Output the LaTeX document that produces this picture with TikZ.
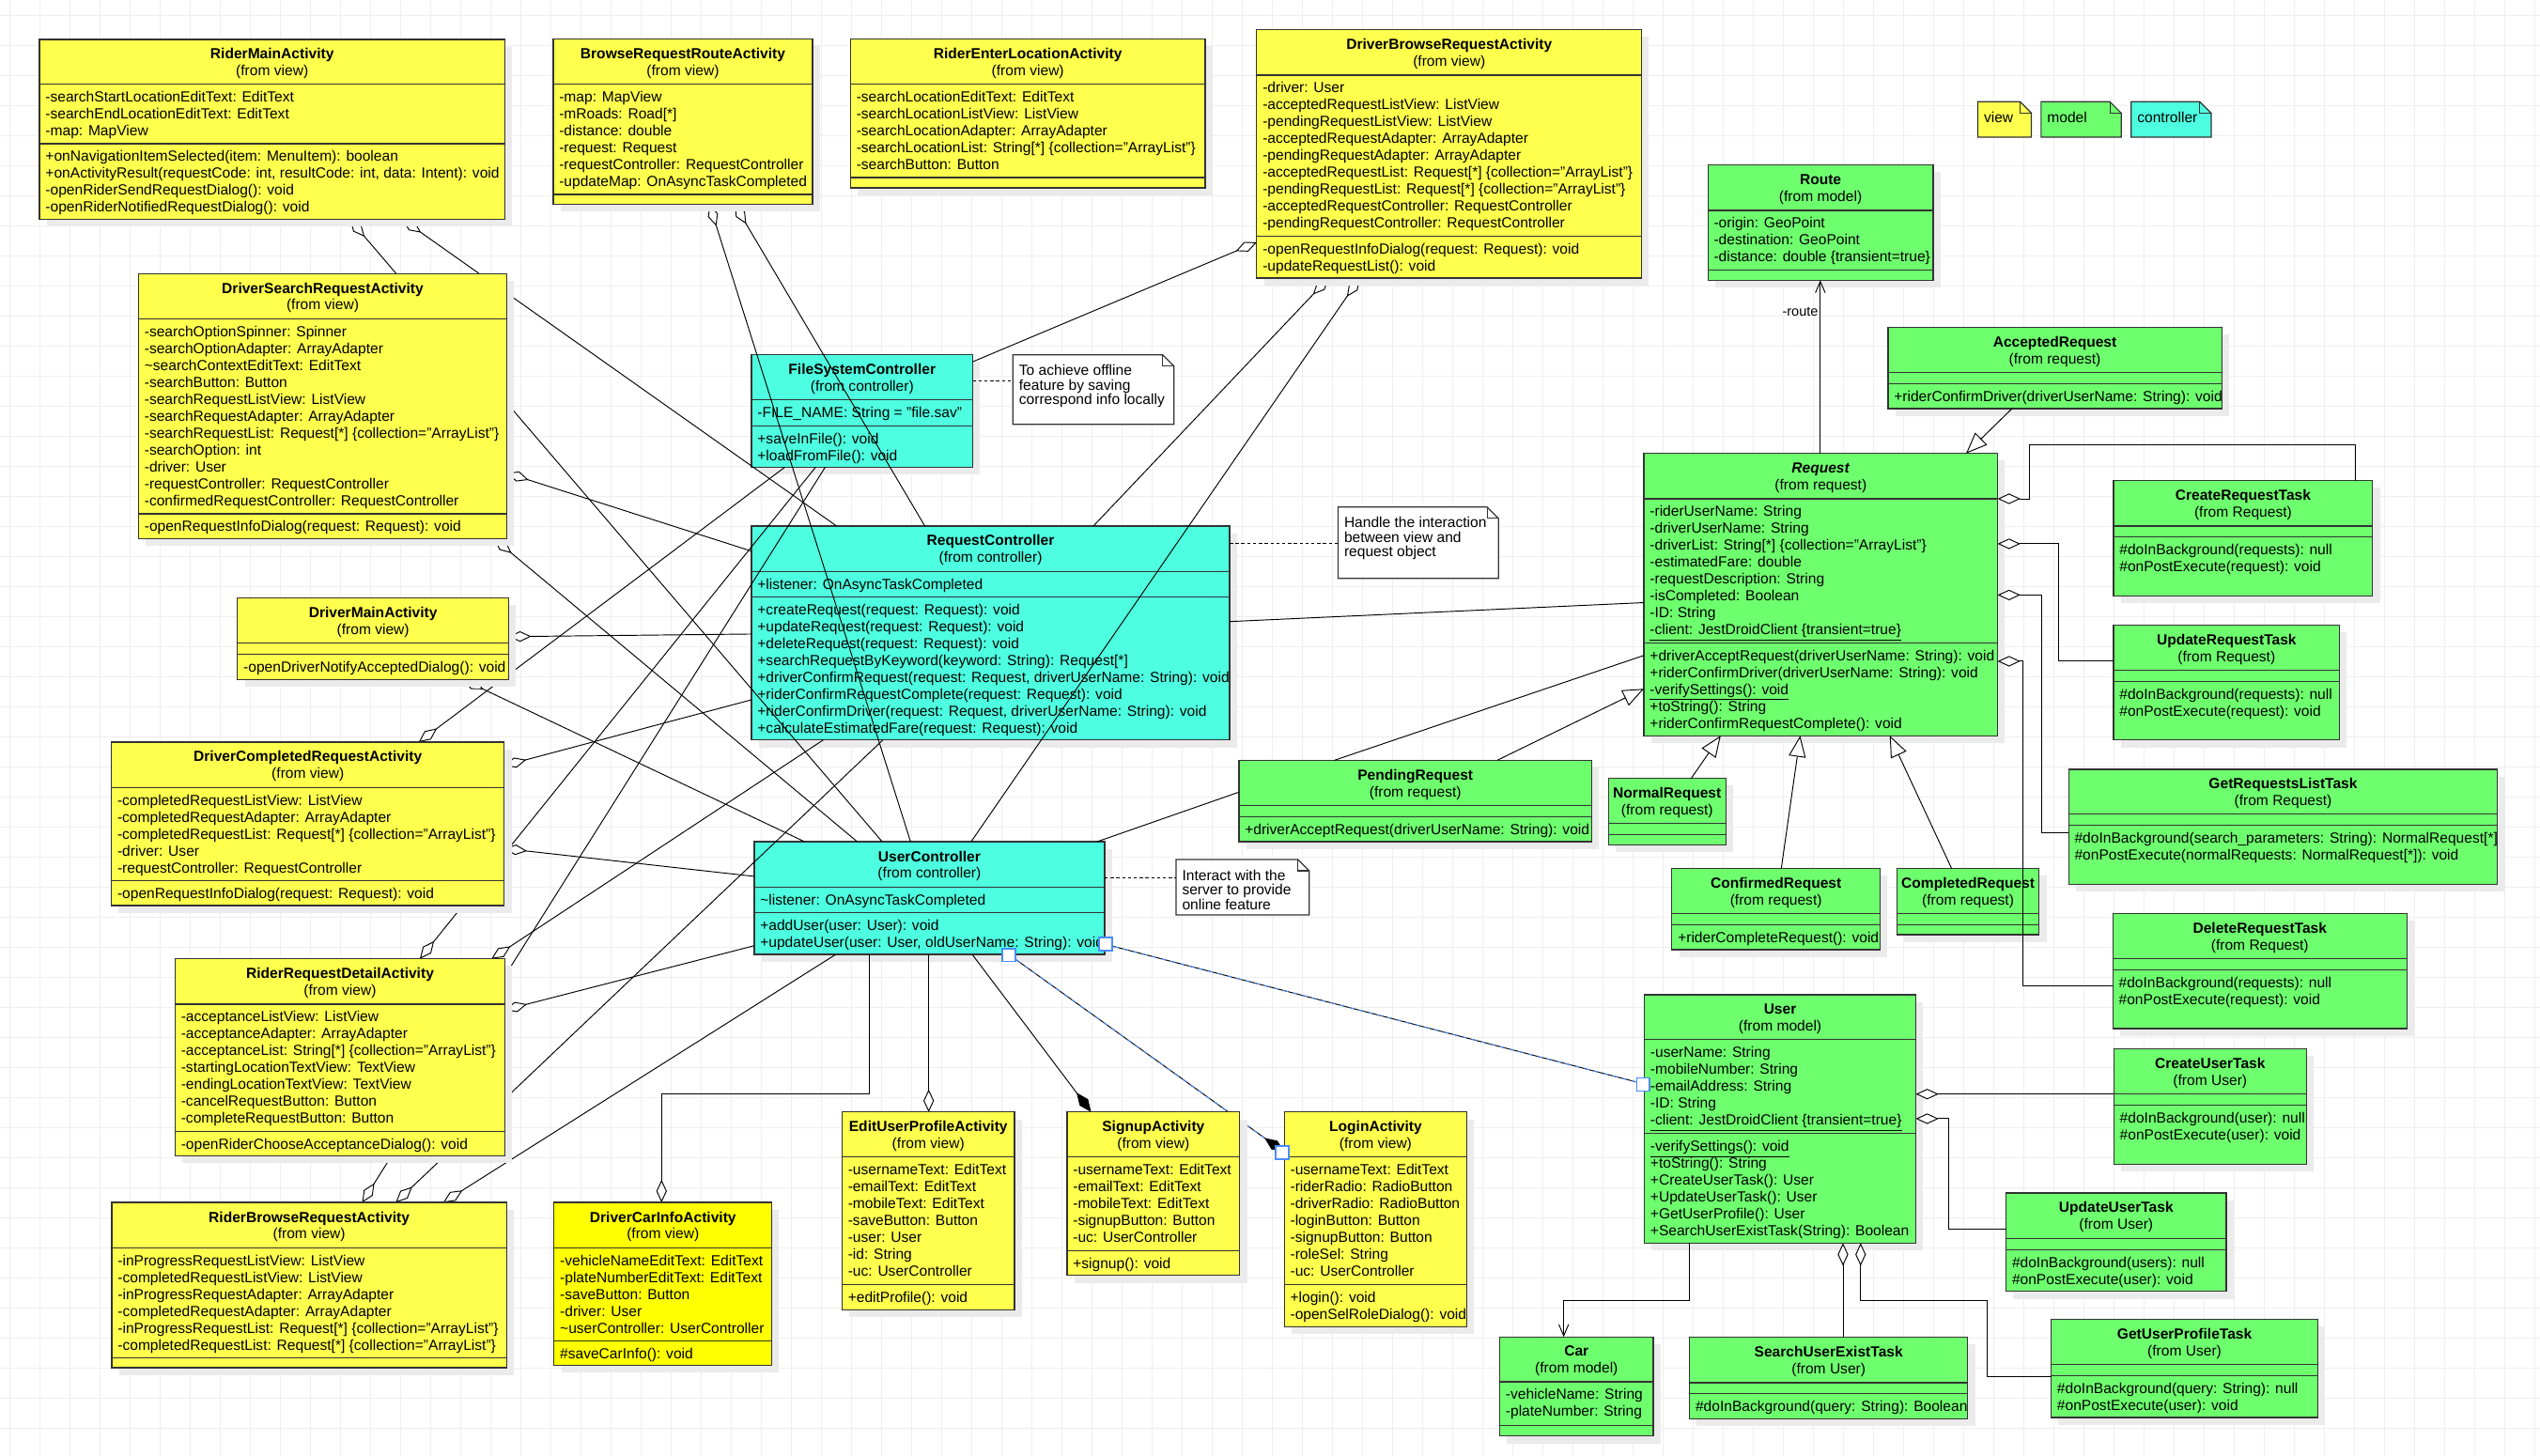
\documentclass[tikz,border=0pt]{standalone}
\usepackage{fontspec}
\setmainfont{Liberation Sans}
\usetikzlibrary{arrows.meta}
\pgfdeclarelayer{front}
\pgfdeclarelayer{top}
\pgfsetlayers{main,front,top}
\definecolor{vyel}{HTML}{FFFF4D}
\definecolor{vyelb}{HTML}{FFFF00}
\definecolor{mgrn}{HTML}{6EFF6E}
\definecolor{ccyn}{HTML}{4DFFE0}
\definecolor{selb}{HTML}{4A8CFF}
\definecolor{gridc}{HTML}{EFEFEF}
\definecolor{shad}{HTML}{EBEBEB}
\definecolor{bord}{HTML}{333333}
\newcommand\ufont{\fontsize{9.03}{10.44}\selectfont}
\def\UGeom#1,#2,#3,#4,#5,#6\relax{\def\ux{#1}\def\uy{#2}\def\uxx{#3}\def\uyy{#4}\def\uhy{#5}\def\uay{#6}}
\def\UNGeom#1,#2,#3,#4\relax{\def\ux{#1}\def\uy{#2}\def\uxx{#3}\def\uyy{#4}}
\tikzset{
 umlbox/.style={draw=bord, line width=0.7pt, inner sep=0pt, outer sep=0pt, anchor=north west},
 tline/.style={anchor=base west, inner sep=0pt, font=\ufont},
 tbold/.style={anchor=base, inner sep=0pt, font=\ufont\bfseries},
 tsub/.style={anchor=base, inner sep=0pt, font=\ufont},
 conn/.style={draw=black, line width=0.55pt},
 agg/.style={conn, {Diamond[fill=white,length=14pt,width=6.5pt]}-},
 compo/.style={conn, -{Diamond[fill=black,length=15pt,width=6.5pt]}},
 gen/.style={conn, -{Triangle[fill=white,length=13pt,width=10.5pt]}},
 navi/.style={conn, -{Straight Barb[length=7pt,width=6pt]}},
 dotl/.style={draw=black, line width=0.55pt, dash pattern=on 2pt off 1.6pt},
 selov/.style={draw=selb, line width=0.55pt, dash pattern=on 3pt off 3pt},
 handle/.style={draw=selb, fill=white, line width=0.9pt, minimum size=8pt, inner sep=0pt},
}
\newcommand\UClass[7]{%
  \UGeom#2\relax
  \fill[shad] (\ux+4.5,\uy+4.5) rectangle (\uxx+4.5,\uyy+4.5);
  \node[umlbox, fill=#3, minimum width={(\uxx-\ux)*1pt}, minimum height={(\uyy-\uy)*1pt}] (#1) at (\ux,\uy) {};
  \draw[bord, line width=0.7pt] (\ux,\uhy) -- (\uxx,\uhy) (\ux,\uay) -- (\uxx,\uay);
  \node[tbold] (#1-t) at ({(\ux+\uxx)/2},{(\uy+\uhy)/2-5.15+3.3}) {#4};
  \node[tsub] (#1-s) at ({(\ux+\uxx)/2},{(\uy+\uhy)/2+5.15+3.3}) {#5};
  \if\relax\detokenize{#6}\relax\else
  \foreach \ulin [count=\ui] in {#6} {\node[tline] (#1-a\ui) at (\ux+3.5,{\uhy+10.9+(\ui-1)*10.44}) {\ulin};}\fi
  \if\relax\detokenize{#7}\relax\else
  \foreach \ulin [count=\ui] in {#7} {\node[tline] (#1-m\ui) at (\ux+3.5,{\uay+10.9+(\ui-1)*10.44}) {\ulin};}\fi
}
\newcommand\UNote[4]{%
  \UNGeom#2\relax
  \node[inner sep=0pt, outer sep=0pt, anchor=north west, minimum width={(\uxx-\ux)*1pt}, minimum height={(\uyy-\uy)*1pt}] (#1) at (\ux,\uy) {};
  \filldraw[fill=#3, draw=bord, line width=0.7pt] (\ux,\uy) -- (\uxx-7,\uy) -- (\uxx,\uy+7) -- (\uxx,\uyy) -- (\ux,\uyy) -- cycle;
  \draw[bord, line width=0.7pt] (\uxx-7,\uy) -- (\uxx-7,\uy+7) -- (\uxx,\uy+7);
  \foreach \ulin [count=\ui] in {#4} {\node[tline] (#1-l\ui) at (\ux+3.6,{\uy+9.5+3.3+(\ui-1)*9}) {\ulin};}
}
\begin{document}
\begin{tikzpicture}[x=1pt,y=-1pt]
\useasboundingbox (0,0) rectangle (1568,898.8);
\fill[white] (0,0) rectangle (1568,898.8);
\foreach \g in {0,...,84} {\draw[gridc, line width=0.4pt] ({6.1+\g*18.556},0) -- ({6.1+\g*18.556},898.8);}
\foreach \g in {0,...,48} {\draw[gridc, line width=0.4pt] (0,{9.6+\g*18.556}) -- (1568,{9.6+\g*18.556});}

% ---------- controllers ----------
\UClass{fsc}{463.9,219,600.5,288.4,246.8,262.9}{ccyn}{FileSystemController}{(from controller)}{{-FILE\_NAME: String = "file.sav"}}{{+saveInFile(): void},{+loadFromFile(): void}}
\UClass{rc}{463.9,324.7,759.1,456.8,352.8,368.6}{ccyn}{RequestController}{(from controller)}{{+listener: OnAsyncTaskCompleted}}{{+createRequest(request: Request): void},{+updateRequest(request: Request): void},{+deleteRequest(request: Request): void},{+searchRequestByKeyword(keyword: String): Request[*]},{+driverConfirmRequest(request: Request, driverUserName: String): void},{+riderConfirmRequestComplete(request: Request): void},{+riderConfirmDriver(request: Request, driverUserName: String): void},{+calculateEstimatedFare(request: Request): void}}
\UClass{uc}{465.6,519.6,681.9,589.2,547.6,563.5}{ccyn}{UserController}{(from controller)}{{\textasciitilde listener: OnAsyncTaskCompleted}}{{+addUser(user: User): void},{+updateUser(user: User, oldUserName: String): void}}

% ---------- models ----------
\UClass{route}{1054.3,101.9,1193.4,173,129.9,166.6}{mgrn}{Route}{(from model)}{{-origin: GeoPoint},{-destination: GeoPoint},{-distance: double \{transient=true\}}}{}
\UClass{acc}{1165.5,202,1371.5,252.3,230,236.8}{mgrn}{AcceptedRequest}{(from request)}{}{{+riderConfirmDriver(driverUserName: String): void}}
\UClass{req}{1014.8,279.9,1233.2,454.2,307.9,396.8}{mgrn}{\textit{Request}}{(from request)}{{-riderUserName: String},{-driverUserName: String},{-driverList: String[*] \{collection="ArrayList"\}},{-estimatedFare: double},{-requestDescription: String},{-isCompleted: Boolean},{-ID: String},{\underline{-client: JestDroidClient \{transient=true\}}}}{{+driverAcceptRequest(driverUserName: String): void},{+riderConfirmDriver(driverUserName: String): void},{\underline{-verifySettings(): void}},{+toString(): String},{+riderConfirmRequestComplete(): void}}
\UClass{crt}{1304.7,296.7,1464.7,367.8,324.7,331.5}{mgrn}{CreateRequestTask}{(from Request)}{}{{\#doInBackground(requests): null},{\#onPostExecute(request): void}}
\UClass{urt}{1304.7,386,1444.3,456.8,413.6,420.8}{mgrn}{UpdateRequestTask}{(from Request)}{}{{\#doInBackground(requests): null},{\#onPostExecute(request): void}}
\UClass{grt}{1277,474.9,1541.8,546,502.6,509.5}{mgrn}{GetRequestsListTask}{(from Request)}{}{{\#doInBackground(search\_parameters: String): NormalRequest[*]},{\#onPostExecute(normalRequests: NormalRequest[*]): void}}
\UClass{drt}{1304.3,564,1485.8,635,591.9,598.6}{mgrn}{DeleteRequestTask}{(from Request)}{}{{\#doInBackground(requests): null},{\#onPostExecute(request): void}}
\UClass{pend}{764.8,469.3,982.6,519.6,497.3,504.1}{mgrn}{PendingRequest}{(from request)}{}{{+driverAcceptRequest(driverUserName: String): void}}
\UClass{norm}{992.9,480.5,1065.4,521.5,508.4,515.1}{mgrn}{NormalRequest}{(from request)}{}{}
\UClass{conf}{1032.1,536.2,1160.6,586.3,564,570.8}{mgrn}{ConfirmedRequest}{(from request)}{}{{+riderCompleteRequest(): void}}
\UClass{cplt}{1171,536.2,1258.8,577,564,570.8}{mgrn}{CompletedRequest}{(from request)}{}{}
\UClass{user}{1015.1,614.1,1182.7,767.4,641.7,699.7}{mgrn}{User}{(from model)}{{-userName: String},{-mobileNumber: String},{-emailAddress: String},{-ID: String},{\underline{-client: JestDroidClient \{transient=true\}}}}{{\underline{-verifySettings(): void}},{+toString(): String},{+CreateUserTask(): User},{+UpdateUserTask(): User},{+GetUserProfile(): User},{+SearchUserExistTask(String): Boolean}}
\UClass{cut}{1304.9,647.5,1423.8,718.7,675.4,682.3}{mgrn}{CreateUserTask}{(from User)}{}{{\#doInBackground(user): null},{\#onPostExecute(user): void}}
\UClass{uut}{1238.4,736.4,1374.3,797.2,764.5,771.4}{mgrn}{UpdateUserTask}{(from User)}{}{{\#doInBackground(users): null},{\#onPostExecute(user): void}}
\UClass{car}{925.8,825.3,1020.6,886.5,853,880}{mgrn}{Car}{(from model)}{{-vehicleName: String},{-plateNumber: String}}{}
\UClass{suet}{1043,825.3,1214.7,875.8,853.6,860.4}{mgrn}{SearchUserExistTask}{(from User)}{}{{\#doInBackground(query: String): Boolean}}
\UClass{gupt}{1266.2,814.5,1430.9,875,842.4,849.1}{mgrn}{GetUserProfileTask}{(from User)}{}{{\#doInBackground(query: String): null},{\#onPostExecute(user): void}}

% ---------- notes ----------
\UNote{n1}{625.3,219,724.7,261.9}{white}{{To achieve offline},{feature by saving},{correspond info locally}}
\UNote{n2}{826,313,925,357}{white}{{Handle the interaction},{between view and},{request object}}
\UNote{n3}{726,530.6,808.2,564.8}{white}{{Interact with the},{server to provide},{online feature}}
\UNote{lv}{1220.9,62.8,1254,84.7}{vyel}{{view}}
\UNote{lm}{1260,62.8,1309.5,84.7}{mgrn}{{model}}
\UNote{lc}{1315.6,62.8,1365,84.7}{ccyn}{{controller}}

% ---------- activities (front layer) ----------
\begin{pgfonlayer}{front}
\UClass{rma}{24.4,24.3,311.6,135.5,52,88.7}{vyel}{RiderMainActivity}{(from view)}{{-searchStartLocationEditText: EditText},{-searchEndLocationEditText: EditText},{-map: MapView}}{{+onNavigationItemSelected(item: MenuItem): boolean},{+onActivityResult(requestCode: int, resultCode: int, data: Intent): void},{-openRiderSendRequestDialog(): void},{-openRiderNotifiedRequestDialog(): void}}
\UClass{brr}{341.5,24.2,501.6,126.2,51.8,120}{vyel}{BrowseRequestRouteActivity}{(from view)}{{-map: MapView},{-mRoads: Road[*]},{-distance: double},{-request: Request},{-requestController: RequestController},{-updateMap: OnAsyncTaskCompleted}}{}
\UClass{rel}{525,24.2,744,116,51.8,109.6}{vyel}{RiderEnterLocationActivity}{(from view)}{{-searchLocationEditText: EditText},{-searchLocationListView: ListView},{-searchLocationAdapter: ArrayAdapter},{-searchLocationList: String[*] \{collection="ArrayList"\}},{-searchButton: Button}}{}
\UClass{dbr}{775.8,18.4,1013.4,171.6,46.4,146}{vyel}{DriverBrowseRequestActivity}{(from view)}{{-driver: User},{-acceptedRequestListView: ListView},{-pendingRequestListView: ListView},{-acceptedRequestAdapter: ArrayAdapter},{-pendingRequestAdapter: ArrayAdapter},{-acceptedRequestList: Request[*] \{collection="ArrayList"\}},{-pendingRequestList: Request[*] \{collection="ArrayList"\}},{-acceptedRequestController: RequestController},{-pendingRequestController: RequestController}}{{-openRequestInfoDialog(request: Request): void},{-updateRequestList(): void}}
\UClass{dsr}{85.5,169,312.9,332.5,196.7,317.2}{vyel}{DriverSearchRequestActivity}{(from view)}{{-searchOptionSpinner: Spinner},{-searchOptionAdapter: ArrayAdapter},{\textasciitilde searchContextEditText: EditText},{-searchButton: Button},{-searchRequestListView: ListView},{-searchRequestAdapter: ArrayAdapter},{-searchRequestList: Request[*] \{collection="ArrayList"\}},{-searchOption: int},{-driver: User},{-requestController: RequestController},{-confirmedRequestController: RequestController}}{{-openRequestInfoDialog(request: Request): void}}
\UClass{dma}{146.6,369.2,314,419.5,396.8,404}{vyel}{DriverMainActivity}{(from view)}{}{{-openDriverNotifyAcceptedDialog(): void}}
\UClass{dcr}{68.8,458.1,311.3,559,486.1,543.7}{vyel}{DriverCompletedRequestActivity}{(from view)}{{-completedRequestListView: ListView},{-completedRequestAdapter: ArrayAdapter},{-completedRequestList: Request[*] \{collection="ArrayList"\}},{-driver: User},{-requestController: RequestController}}{{-openRequestInfoDialog(request: Request): void}}
\UClass{rrd}{108.1,591.9,311.7,713.6,619.9,698.4}{vyel}{RiderRequestDetailActivity}{(from view)}{{-acceptanceListView: ListView},{-acceptanceAdapter: ArrayAdapter},{-acceptanceList: String[*] \{collection="ArrayList"\}},{-startingLocationTextView: TextView},{-endingLocationTextView: TextView},{-cancelRequestButton: Button},{-completeRequestButton: Button}}{{-openRiderChooseAcceptanceDialog(): void}}
\UClass{rbr}{69,742.3,312.7,844.3,770.3,838.3}{vyel}{RiderBrowseRequestActivity}{(from view)}{{-inProgressRequestListView: ListView},{-completedRequestListView: ListView},{-inProgressRequestAdapter: ArrayAdapter},{-completedRequestAdapter: ArrayAdapter},{-inProgressRequestList: Request[*] \{collection="ArrayList"\}},{-completedRequestList: Request[*] \{collection="ArrayList"\}}}{}
\UClass{dci}{342,742.3,476.5,842.8,770.3,827.9}{vyelb}{DriverCarInfoActivity}{(from view)}{{-vehicleNameEditText: EditText},{-plateNumberEditText: EditText},{-saveButton: Button},{-driver: User},{\textasciitilde userController: UserController}}{{\#saveCarInfo(): void}}
\UClass{eup}{519.8,686.5,626.3,808.5,714.3,793}{vyel}{EditUserProfileActivity}{(from view)}{{-usernameText: EditText},{-emailText: EditText},{-mobileText: EditText},{-saveButton: Button},{-user: User},{-id: String},{-uc: UserController}}{{+editProfile(): void}}
\UClass{sua}{658.7,686.5,765.3,787.4,714.3,772.3}{vyel}{SignupActivity}{(from view)}{{-usernameText: EditText},{-emailText: EditText},{-mobileText: EditText},{-signupButton: Button},{-uc: UserController}}{{+signup(): void}}
\UClass{lga}{792.8,686.5,905.6,818.9,714.3,793}{vyel}{LoginActivity}{(from view)}{{-usernameText: EditText},{-riderRadio: RadioButton},{-driverRadio: RadioButton},{-loginButton: Button},{-signupButton: Button},{-roleSel: String},{-uc: UserController}}{{+login(): void},{-openSelRoleDialog(): void}}
\end{pgfonlayer}

% ---------- connectors: views to controllers ----------
\draw[agg] (rma.south -| 216,0) -- (uc.north -| 544.6,0);
\draw[agg] (rma.south -| 248.5,0) -- (rc.north -| 516.4,0);
\draw[agg] (brr.south -| 438,0) -- (uc.north -| 562.1,0);
\draw[agg] (brr.south -| 453.5,0) -- (rc.north -| 570.9,0);
\draw[agg] (dbr.west |- 0,149.6) -- (fsc.east |- 0,223.3);
\draw[agg] (dbr.south -| 820.2,0) -- (rc.north -| 675,0);
\draw[agg] (dbr.south -| 839.4,0) -- (uc.north -| 599.5,0);
\draw[agg] (dsr.east |- 0,292) -- (rc.west |- 0,340.2);
\draw[agg] (dsr.south -| 305,0) -- (uc.north -| 529.2,0);
\draw[agg] (dma.east |- 0,393) -- (rc.west |- 0,391.4);
\draw[agg] (dma.south -| 285.8,0) -- (uc.north -| 496.7,0);
\draw[agg] (dcr.north -| 258.5,0) -- (fsc.south -| 484.5,0);
\draw[agg] (dcr.east |- 0,472.6) -- (rc.west |- 0,432);
\draw[agg] (dcr.east |- 0,523.8) -- (uc.west |- 0,541);
\draw[agg] (rrd.north -| 259.2,0) -- (fsc.south -| 503.5,0);
\draw[agg] (rrd.north -| 303.4,0) -- (rc.south -| 508.2,0);
\draw[agg] (rrd.east |- 0,623.4) -- (uc.west |- 0,583.8);
\draw[agg] (rbr.north -| 223.6,0) -- (fsc.south -| 509.4,0);
\draw[agg] (rbr.north -| 244.3,0) -- (rc.south -| 545,0);
\draw[agg] (rbr.north -| 273.6,0) -- (uc.south -| 515.9,0);
\draw[agg] (dci.north -| 408.4,0) -- ++(0,-67) -| (uc.south -| 536.6,0);
\draw[agg] (eup.north -| 573.3,0) -- (uc.south -| 573.3,0);
\draw[compo] (uc.south -| 600.2,0) -- (sua.north -| 673.6,0);
\draw[compo] (uc.south -| 622.7,0) -- (lga.west |- 0,711.2);
\draw[selov, shorten >=15pt] (uc.south -| 622.7,0) -- (lga.west |- 0,711.2);
% ---------- controllers to models ----------
\draw[conn] (uc.north -| 677.2,0) -- (pend.west |- 0,489);
\draw[conn] (rc.east |- 0,383.7) -- (req.west |- 0,372);
\draw[conn] (uc.east |- 0,582.8) -- (user.west |- 0,669.2);
\draw[selov] (uc.east |- 0,582.8) -- (user.west |- 0,669.2);
% ---------- model relations ----------
\draw[conn] (pend.north -| 823.8,0) -- (req.west |- 0,404.6);
\draw[gen] (pend.north -| 924.3,0) -- (req.west |- 0,425.2);
\draw[navi] (req.north -| 1123.7,0) -- (route.south -| 1123.7,0);
\node[tline, anchor=base east, font=\fontsize{8.4}{9}\selectfont] (rlab) at (1122.5,195) {-route};
\draw[gen] (acc.south -| 1242,0) -- (req.north -| 1213.7,0);
\draw[gen] (norm.north -| 1044,0) -- (req.south -| 1062.2,0);
\draw[gen] (conf.north -| 1099.6,0) -- (req.south -| 1111.3,0);
\draw[gen] (cplt.north -| 1204.8,0) -- (req.south -| 1166.6,0);
\draw[agg] (req.east |- 0,307.9) -- ++(19.8,0) -- ++(0,-33.4) -| (crt.north -| 1454,0);
\draw[agg] (req.east |- 0,335.7) -- ++(37.8,0) |- (urt.west |- 0,408.2);
\draw[agg] (req.east |- 0,367.3) -- ++(26.9,0) |- (grt.west |- 0,513.8);
\draw[agg] (req.east |- 0,408.2) -- ++(15.3,0) |- (drt.west |- 0,608.5);
\draw[agg] (user.east |- 0,675.4) -- (cut.west |- 0,675.4);
\draw[agg] (user.east |- 0,690.6) -- ++(20.3,0) |- (uut.west |- 0,758.9);
\draw[navi] (user.south -| 1043,0) -- ++(0,35.7) -| (car.north -| 965.3,0);
\draw[agg] (user.south -| 1137.7,0) -- (suet.north -| 1137.7,0);
\draw[agg] (user.south -| 1148.6,0) -- ++(0,35.7) -- ++(78.1,0) |- (gupt.west |- 0,849.9);
% ---------- note links ----------
\draw[dotl] (fsc.east |- 0,235.4) -- (n1.west |- 0,235.4);
\draw[dotl] (rc.east |- 0,335.7) -- (n2.west |- 0,335.7);
\draw[dotl] (uc.east |- 0,541.8) -- (n3.west |- 0,541.8);
% ---------- selection handles ----------
\begin{pgfonlayer}{top}
\node[handle] (h1) at (622.7,589.6) {};
\node[handle] (h2) at (791.6,711.6) {};
\node[handle] (h3) at (682.5,582.8) {};
\node[handle] (h4) at (1014.3,669.4) {};
\end{pgfonlayer}
\end{tikzpicture}
\end{document}
